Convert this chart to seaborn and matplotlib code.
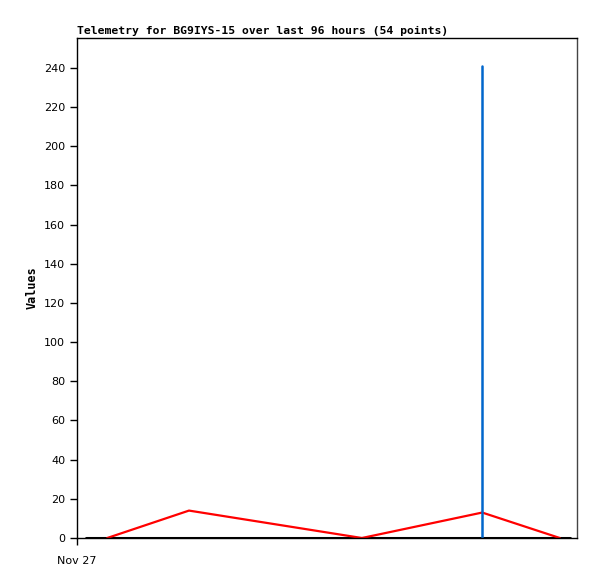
import pandas as pd
import seaborn as sns
import matplotlib.pyplot as plt

# hours since Nov 27 00:00
zero_hours = [1.7, 94.7]
zero_vals = [0, 0]
red_hours = [5.8, 21.5, 54.7, 77.8, 92.7]
red_vals = [0, 14, 0, 13, 0]
blue_hours = [77.8, 77.8]
blue_vals = [0, 241]
yticks = list(range(0, 241, 20))

start = pd.Timestamp('2023-11-27 00:00')
to_time = lambda hrs: [start + pd.Timedelta(hours=h) for h in hrs]

zero = pd.DataFrame({'time': to_time(zero_hours), 'value': zero_vals})
red = pd.DataFrame({'time': to_time(red_hours), 'value': red_vals})
blue = pd.DataFrame({'time': to_time(blue_hours), 'value': blue_vals})

sns.set_style('ticks')
plt.rcParams['font.family'] = ['DejaVu Sans']
plt.rcParams['text.color'] = 'black'
plt.rcParams['xtick.color'] = 'black'
plt.rcParams['ytick.color'] = 'black'
plt.rcParams['axes.labelcolor'] = 'black'

fig = plt.figure(figsize=(5.97, 5.79), dpi=100)
ax = fig.add_axes([0.129, 0.0708, 0.8375, 0.8636])

sns.lineplot(data=zero, x='time', y='value', color='black', linewidth=2.2,
             estimator=None, sort=False, ax=ax)
sns.lineplot(data=red, x='time', y='value', color='#ff0000', linewidth=1.6,
             estimator=None, sort=False, ax=ax)
sns.lineplot(data=blue, x='time', y='value', color='#0066cc', linewidth=1.8,
             estimator=None, sort=False, ax=ax)

ax.set_xlim(start, start + pd.Timedelta(hours=96))
ax.set_ylim(0, 255.3)
ax.set_yticks(yticks)
ax.set_yticklabels([str(t) for t in yticks], fontsize=8)
ax.set_xticks([start])
ax.set_xticklabels(['Nov 27'], fontsize=8)
ax.tick_params(axis='both', direction='out', length=5, width=1, color='black')
ax.tick_params(axis='x', pad=8)

for side in ax.spines:
    ax.spines[side].set_visible(True)
    ax.spines[side].set_linewidth(1)
    ax.spines[side].set_color('black')
ax.spines['right'].set_color('#444444')

ax.set_xlabel('')
ax.set_ylabel('Values', family='DejaVu Sans Mono', fontweight='bold', fontsize=8.5)
ax.set_title('Telemetry for BG9IYS-15 over last 96 hours (54 points)',
             loc='left', family='DejaVu Sans Mono', fontweight='bold', fontsize=8.2, pad=3)

fig.savefig('out.png', dpi=100)
